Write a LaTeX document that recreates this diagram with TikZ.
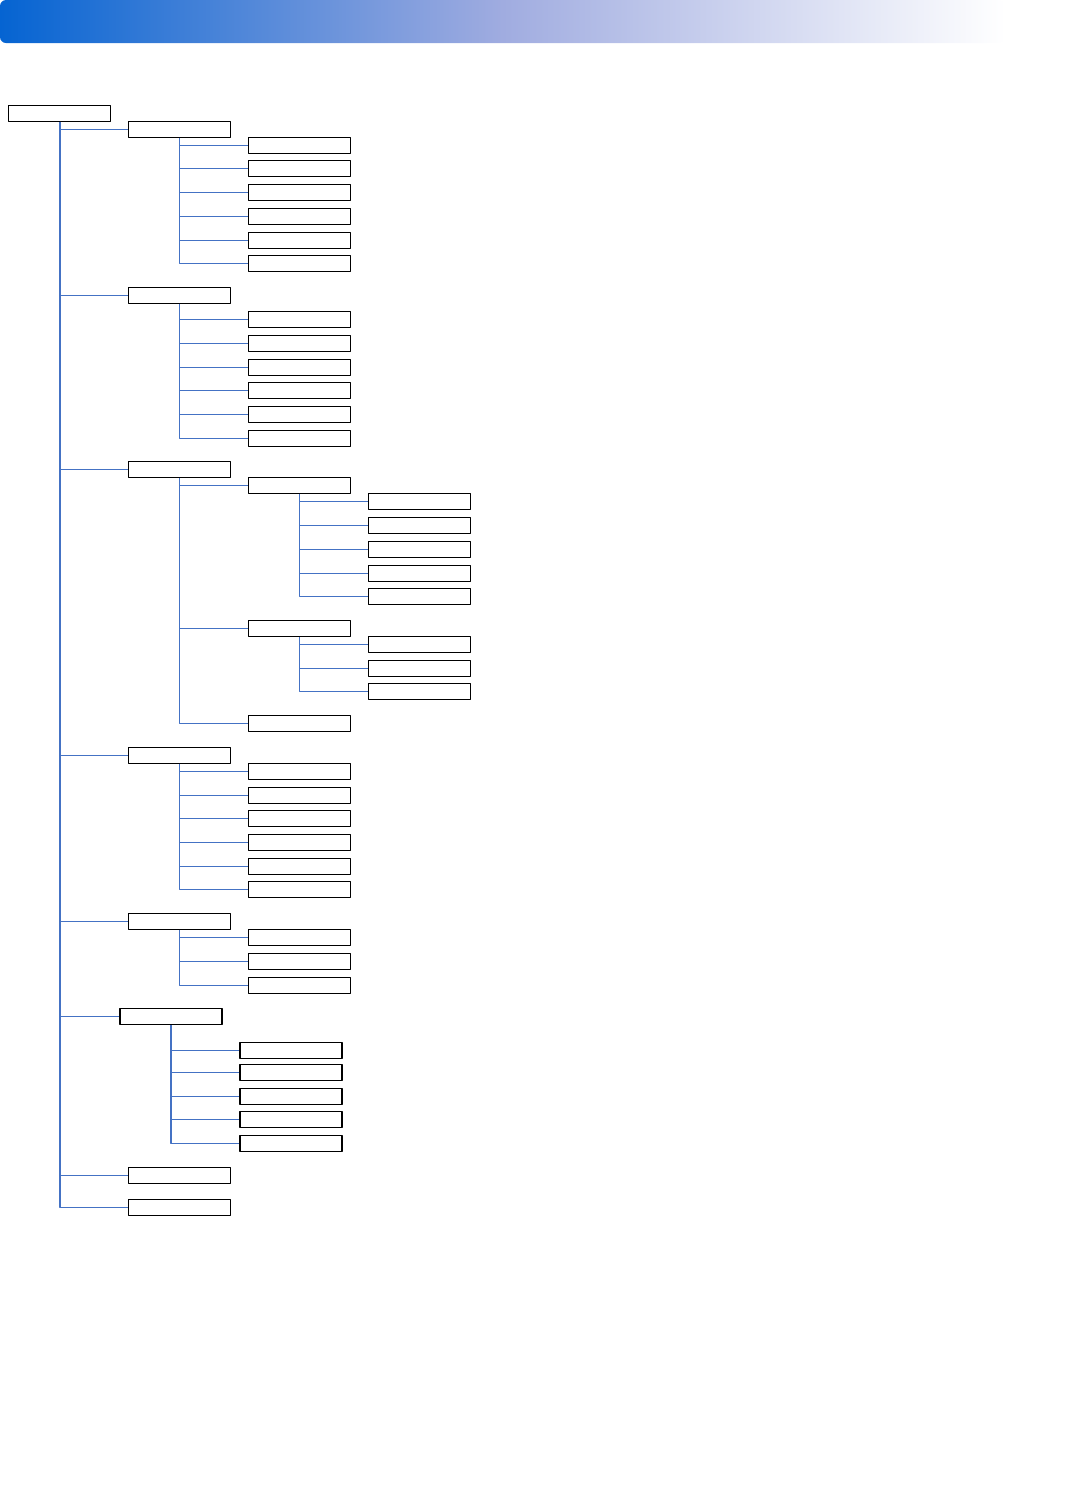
\documentclass[tikz,border=0pt]{standalone}
\usetikzlibrary{positioning}
\definecolor{linkblue}{RGB}{68,114,196}
\definecolor{barblue}{RGB}{5,100,210}
\definecolor{barmid}{RGB}{160,172,224}
\begin{document}
\begin{tikzpicture}[x=0.5pt,y=-0.5pt,line join=round]
        \tikzset{box/.style={draw=black,line width=0.55pt,fill=white,minimum width=51pt,minimum height=8pt,inner sep=0pt},
                 link/.style={draw=linkblue,line width=0.6pt}}
        \useasboundingbox (0,0) rectangle (1090,1511);
        \shade[rounded corners=3pt,left color=barblue,right color=white,middle color=barmid] (0,0) rectangle (1005,43);
        \node[box] (root) at (59.9,113.3) {};
        % first level
        \foreach \n/\y in {a/129.3,b/295.3,c/469.3,d/755.3,e/921.3,g/1175.3,h/1207.3}
            \node[box] (\n) at (179.4,\y) {};
        \node[box] (f) at (171,1016.5) {};
        \foreach \n in {a,b,c,d,e,f,g,h}
            \draw[link] (root.south) |- (\n.west);
        % second level
        \foreach \y [count=\i] in {145.3,168.3,192.3,216.3,240.3,263.3}
            {\node[box] (a\i) at (299.6,\y) {};
            \draw[link] (a.south) |- (a\i.west);}
        \foreach \y [count=\i] in {319.3,343.3,367.3,390.3,414.3,438.3}
            {\node[box] (b\i) at (299.6,\y) {};
            \draw[link] (b.south) |- (b\i.west);}
        \foreach \y [count=\i] in {485.3,628.3,723.3}
            {\node[box] (c\i) at (299.6,\y) {};
            \draw[link] (c.south) |- (c\i.west);}
        \foreach \y [count=\i] in {771.3,795.3,818.3,842.3,866.3,889.3}
            {\node[box] (d\i) at (299.6,\y) {};
            \draw[link] (d.south) |- (d\i.west);}
        \foreach \y [count=\i] in {937.3,961.3,985.3}
            {\node[box] (e\i) at (299.6,\y) {};
            \draw[link] (e.south) |- (e\i.west);}
        \foreach \y [count=\i] in {1050.3,1072.3,1096.3,1119.3,1143.3}
            {\node[box] (f\i) at (291,\y) {};
            \draw[link] (f.south) |- (f\i.west);}
        % third level
        \foreach \y [count=\i] in {501.3,525.3,549.3,573.3,596.3}
            {\node[box] (c1\i) at (419.6,\y) {};
            \draw[link] (c1.south) |- (c1\i.west);}
        \foreach \y [count=\i] in {644.3,668.3,691.3}
            {\node[box] (c2\i) at (419.6,\y) {};
            \draw[link] (c2.south) |- (c2\i.west);}
\end{tikzpicture}
\end{document}
